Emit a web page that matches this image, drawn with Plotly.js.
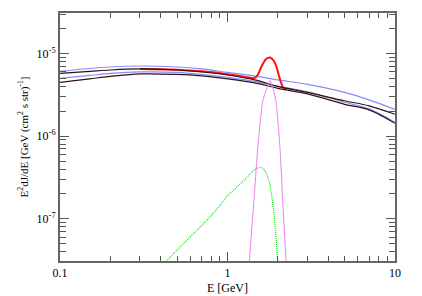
<!DOCTYPE html>
<html>
<head>
<meta charset="utf-8">
<script src="https://cdn.plot.ly/plotly-3.0.1.min.js"></script>
<style>html,body{margin:0;padding:0;background:#fff;}#chart{width:422px;height:296px;}</style>
</head>
<body>
<div id="chart"></div>
<script>
// Energy grid (GeV) for the broad spectra
const energy = [0.1, 0.15, 0.2, 0.3, 0.5, 0.7, 1.0, 1.5, 2.0, 3.0, 5.0, 7.0, 10];
// Light-blue upper curve
const blueUpper = [6.07e-6, 6.59e-6, 6.87e-6, 7.06e-6, 6.87e-6, 6.50e-6, 5.90e-6, 5.28e-6, 4.79e-6, 4.23e-6, 3.39e-6, 2.75e-6, 2.11e-6];
// Dark upper curve
const darkUpper = [5.74e-6, 6.07e-6, 6.32e-6, 6.50e-6, 6.32e-6, 5.98e-6, 5.50e-6, 4.73e-6, 4.00e-6, 3.39e-6, 2.68e-6, 2.33e-6, 1.84e-6];
// Blue lower curve
const blueLower = [5.00e-6, 5.43e-6, 5.74e-6, 5.98e-6, 5.90e-6, 5.58e-6, 5.14e-6, 4.54e-6, 4.00e-6, 3.44e-6, 2.57e-6, 2.14e-6, 1.47e-6];
// Dark lower curve
const darkLower = [4.48e-6, 4.93e-6, 5.28e-6, 5.66e-6, 5.58e-6, 5.36e-6, 4.93e-6, 4.35e-6, 3.79e-6, 3.25e-6, 2.43e-6, 2.08e-6, 1.43e-6];

// Red total curve (with line)
const redEnergy = [0.3, 0.5, 0.7, 1.0, 1.272, 1.449, 1.521, 1.607, 1.698, 1.794, 1.895, 1.975, 2.058, 2.145, 2.235];
const redValues = [6.50e-6, 6.38e-6, 6.08e-6, 5.62e-6, 5.21e-6, 5.04e-6, 5.58e-6, 7.17e-6, 8.59e-6, 8.95e-6, 8.12e-6, 6.59e-6, 4.86e-6, 3.89e-6, 3.65e-6];

// Magenta line component
const lineEnergy = [1.30, 1.35, 1.45, 1.514, 1.622, 1.70, 1.794, 1.88, 1.948, 2.058, 2.15, 2.236, 2.30];
const lineValues = [1.2e-8, 3.1e-8, 2.1e-7, 7.0e-7, 2.64e-6, 3.6e-6, 4.7e-6, 3.6e-6, 2.64e-6, 7.2e-7, 1.3e-7, 3.1e-8, 1.2e-8];

// Green dotted component
const greenEnergy = [0.40, 0.433, 0.545, 0.685, 0.80, 0.90, 1.0, 1.26, 1.445, 1.55, 1.62, 1.70, 1.777, 1.85, 1.90, 1.99, 2.03];
const greenValues = [2.6e-8, 3.1e-8, 5.0e-8, 7.9e-8, 1.1e-7, 1.45e-7, 1.9e-7, 2.95e-7, 3.9e-7, 4.2e-7, 4.1e-7, 3.6e-7, 2.8e-7, 1.7e-7, 1.1e-7, 3.3e-8, 2.0e-8];

// Tick labels
const xTickVals = [0.1, 1, 10];
const xTickText = ['0.1', '1', '10'];
const yTickVals = [1e-7, 1e-6, 1e-5];
const yTickText = ['10<sup>-7</sup>', '10<sup>-6</sup>', '10<sup>-5</sup>'];

function minorLog(lo, hi) {
  const out = [];
  for (let d = lo; d <= hi; d++) {
    for (let m = 2; m <= 9; m++) out.push(m * Math.pow(10, d));
  }
  return out;
}

const traces = [
  {x: energy, y: blueUpper, mode: 'lines', line: {color: '#8a8aff', width: 1.2, shape: 'spline'}},
  {x: energy, y: blueLower, mode: 'lines', line: {color: '#8a8aff', width: 1.2, shape: 'spline'}},
  {x: redEnergy, y: redValues, mode: 'lines', line: {color: '#ff1010', width: 2, shape: 'spline', smoothing: 0.6}},
  {x: energy, y: darkUpper, mode: 'lines', line: {color: '#301414', width: 1.2, shape: 'spline'}},
  {x: energy, y: darkLower, mode: 'lines', line: {color: '#301414', width: 1.2, shape: 'spline'}},
  {x: lineEnergy, y: lineValues, mode: 'lines', line: {color: '#ee82ee', width: 1, shape: 'spline', smoothing: 0.5}},
  {x: greenEnergy, y: greenValues, mode: 'lines', line: {color: '#00e000', width: 1.1, dash: '1px,1px', shape: 'spline', smoothing: 0.5}}
];

const axisCommon = {
  type: 'log',
  showline: true,
  linecolor: '#666',
  linewidth: 2,
  mirror: 'allticks',
  ticks: 'inside',
  ticklen: 9,
  tickwidth: 1,
  tickcolor: '#555',
  showgrid: false,
  zeroline: false,
  tickfont: {family: 'Liberation Serif, Times New Roman, serif', size: 12, color: '#000'}
};

const layout = {
  width: 422,
  height: 296,
  margin: {l: 60, r: 27, t: 13, b: 35},
  paper_bgcolor: '#fff',
  plot_bgcolor: '#fff',
  showlegend: false,
  font: {family: 'Liberation Serif, Times New Roman, serif', size: 12, color: '#000'},
  xaxis: Object.assign({}, axisCommon, {
    range: [-1, 1],
    tickmode: 'array',
    tickvals: xTickVals,
    ticktext: xTickText,
    minor: {tickmode: 'array', tickvals: minorLog(-1, 0), ticks: 'inside', ticklen: 5, tickwidth: 1, tickcolor: '#555', showgrid: false},
    title: {text: 'E [GeV]', font: {size: 12}, standoff: 4}
  }),
  yaxis: Object.assign({}, axisCommon, {
    range: [-7.51, -4.51],
    tickmode: 'array',
    tickvals: yTickVals,
    ticktext: yTickText,
    minor: {tickmode: 'array', tickvals: minorLog(-8, -5), ticks: 'inside', ticklen: 6, tickwidth: 1, tickcolor: '#555', showgrid: false},
    title: {text: 'E<sup>2</sup>dJ/dE [GeV (cm<sup>2</sup> s str)<sup>-1</sup>]', font: {size: 11}, standoff: 6}
  })
};

Plotly.newPlot('chart', traces, layout, {staticPlot: true, displayModeBar: false});
</script>
</body>
</html>
